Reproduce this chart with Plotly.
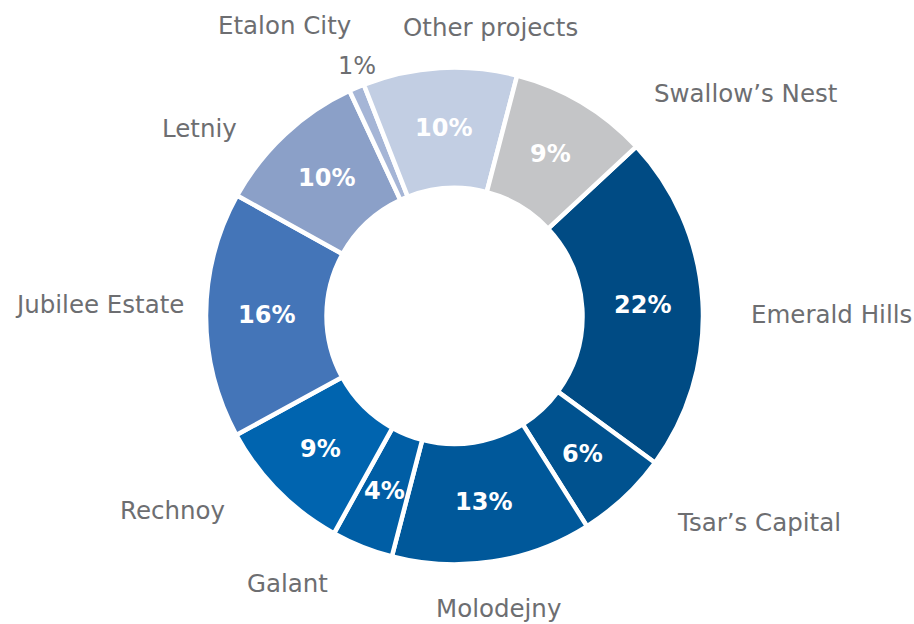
import math
import plotly.graph_objects as go

# Project shares (%), clockwise from the Emerald Hills slice
projects = ["Emerald Hills", "Tsar\u2019s Capital", "Molodejny", "Galant", "Rechnoy",
            "Jubilee Estate", "Letniy", "Etalon City", "Other projects", "Swallow\u2019s Nest"]
shares = [22, 6, 13, 4, 9, 16, 10, 1, 10, 9]
colors = ["#004B84", "#00528F", "#00589A", "#005EA5", "#0064AF",
          "#4475B8", "#8BA0C8", "#A5B5D6", "#C2CEE3", "#C4C5C7"]

W, H = 914, 624
CX, CY = 454.5, 316.0      # donut centre, pixels from top-left
R_OUT = 248.5
HOLE = 0.515
R_IN = R_OUT * HOLE
START = 47.0               # first slice starts this many degrees clockwise from 12 o'clock

GREY = "#6D6E71"

# small manual nudges for the category labels (pixels, like Excel's dragged labels)
label_nudge = {
    "Emerald Hills": (2, -16),
    "Tsar\u2019s Capital": (20, 8),
    "Molodejny": (-1, -2),
    "Galant": (-16, 5),
    "Rechnoy": (-19, 12),
    "Jubilee Estate": (25, 10),
    "Letniy": (-15, -27),
    "Etalon City": (14, 21),
    "Other projects": (53, -4),
    "Swallow\u2019s Nest": (47, -30),
}

fig = go.Figure(go.Pie(
    labels=projects,
    values=shares,
    sort=False,
    direction="clockwise",
    rotation=START,
    hole=HOLE,
    textinfo="none",
    hoverinfo="label+percent",
    marker=dict(colors=colors, line=dict(color="white", width=4.5)),
    domain=dict(x=[(CX - R_OUT) / W, (CX + R_OUT) / W],
                y=[(H - CY - R_OUT) / H, (H - CY + R_OUT) / H]),
    showlegend=False,
))


def to_paper(px, py):
    return px / W, 1 - py / H


total = sum(shares)
angle = START
for name, val in zip(projects, shares):
    sweep = 360.0 * val / total
    mid = math.radians(angle + sweep / 2)
    angle += sweep
    s, c = math.sin(mid), math.cos(mid)
    pct = f"{round(100 * val / total)}%"

    # percentage label in the middle of the ring (outside for tiny slices)
    if val >= 2:
        r = (R_OUT + R_IN) / 2
        x, y = to_paper(CX + r * s, CY - r * c)
        fig.add_annotation(x=x, y=y, xref="paper", yref="paper", text=pct, showarrow=False,
                           xanchor="center", yanchor="middle",
                           font=dict(family="DejaVu Sans", size=24, color="white", weight="bold"))
    else:
        r = R_OUT + 23
        x, y = to_paper(CX + r * s, CY - r * c)
        fig.add_annotation(x=x, y=y, xref="paper", yref="paper", text=pct, showarrow=False,
                           xanchor="center", yanchor="middle", xshift=9,
                           font=dict(family="DejaVu Sans", size=24, color=GREY))

    # category name outside the ring
    r = R_OUT + 45
    x, y = to_paper(CX + r * s, CY - r * c)
    xanchor = "left" if s > 0.3 else ("right" if s < -0.3 else "center")
    dx, dy = label_nudge.get(name, (0, 0))
    fig.add_annotation(x=x, y=y, xref="paper", yref="paper", text=name, showarrow=False,
                       xanchor=xanchor, yanchor="middle", xshift=dx, yshift=dy,
                       font=dict(family="DejaVu Sans", size=24.5, color=GREY))

fig.update_layout(
    width=W,
    height=H,
    margin=dict(l=0, r=0, t=0, b=0),
    paper_bgcolor="white",
    plot_bgcolor="white",
)

# drop the default page margin so the 914x624 figure fills the window exactly
fig.write_html("out.html", config={"displayModeBar": False},
               post_script="document.body.style.margin = '0';")
